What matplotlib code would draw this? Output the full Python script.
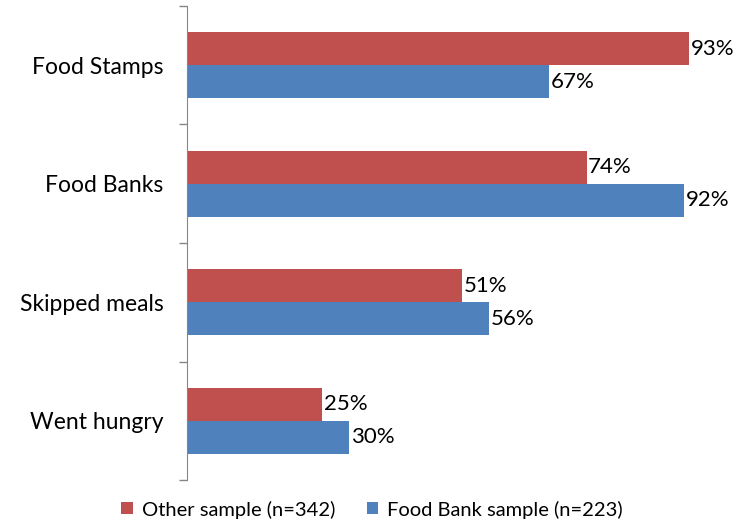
import numpy as np
import matplotlib.pyplot as plt

categories = ['Food Stamps', 'Food Banks', 'Skipped meals', 'Went hungry']
other_sample = [93, 74, 51, 25]
food_bank_sample = [67, 92, 56, 30]
series_names = ['Other sample (n=342)', 'Food Bank sample (n=223)']

plt.rcParams['font.family'] = ['Lato', 'DejaVu Sans']

fig = plt.figure(figsize=(7.37, 5.2), dpi=100)
ax = fig.add_axes([0.2537, 0.0769, 0.7327, 0.9116])

y_pos = np.arange(len(categories))
h = 0.28
red = '#C0504D'
blue = '#4F81BD'

r1 = ax.barh(y_pos - h/2, other_sample, h, color=red, label=series_names[0])
r2 = ax.barh(y_pos + h/2, food_bank_sample, h, color=blue, label=series_names[1])

# percentage labels just past the end of each bar
for rects, vals in [(r1, other_sample), (r2, food_bank_sample)]:
    for r, v in zip(rects, vals):
        ax.text(v + 0.3, r.get_y() + r.get_height()/2, '%d%%' % v,
                va='center', ha='left', fontsize=16)

ax.set_xlim(0, 100)
ax.set_ylim(len(categories) - 0.5, -0.5)

ax.set_yticks(y_pos)
ax.set_yticklabels(categories, fontsize=16.5)
ax.tick_params(axis='y', which='major', length=0, pad=17)
ax.set_yticks(np.arange(len(categories) + 1) - 0.5, minor=True)
ax.tick_params(axis='y', which='minor', length=6, color='#868686', width=1)
ax.set_xticks([])

for s in ['top', 'right', 'bottom']:
    ax.spines[s].set_visible(False)
ax.spines['left'].set_color('#868686')

fig.legend(loc='lower center', bbox_to_anchor=(0.505, -0.032), ncol=2, frameon=False,
           fontsize=14.5, handlelength=0.55, handleheight=0.55, columnspacing=1.6,
           handletextpad=0.45)

fig.savefig('out.png', dpi=100)
